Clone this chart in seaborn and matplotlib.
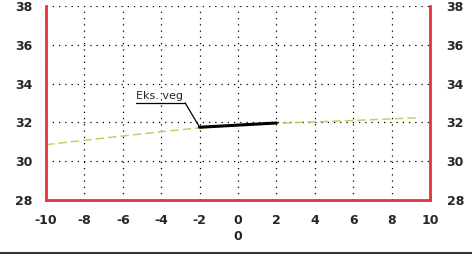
import numpy as np
import pandas as pd
import seaborn as sns
import matplotlib
matplotlib.use("Agg")
from matplotlib import pyplot as plt
from matplotlib.lines import Line2D

# terreng (stiplet gronn) og eksisterende veg (svart)
terreng_x = [-10, -8, -6, -4, -2, 0, 2, 4, 6, 8, 9.5]
terreng_y = [30.85, 31.08, 31.3, 31.52, 31.72, 31.85, 31.95, 32.03, 32.1, 32.18, 32.25]
veg_x = [-2, 2]
veg_y = [31.75, 31.97]
x_ticks = [-10, -8, -6, -4, -2, 0, 2, 4, 6, 8, 10]
y_ticks = [28, 30, 32, 34, 36, 38]

sns.set_style("white")
plt.rcParams["axes.unicode_minus"] = False
fig = plt.figure(figsize=(4.72, 2.56), dpi=100)
ax = fig.add_axes([46 / 472, 1 - 200 / 256, 384 / 472, 194 / 256])

sns.lineplot(x=terreng_x, y=terreng_y, ax=ax, color="#b5cf5a", lw=1.0,
             linestyle=(0, (6, 3)))
sns.lineplot(x=veg_x, y=veg_y, ax=ax, color="black", lw=2.2)

ax.set_xlim(-10, 10)
ax.set_ylim(28, 38)
ax.set_xticks(x_ticks)
ax.set_yticks(y_ticks)
ax.grid(True, color="black", linestyle=(0, (1, 4)), lw=0.9)

for side in ["left", "right", "bottom"]:
    ax.spines[side].set_color("#e8323c")
    ax.spines[side].set_linewidth(2)
ax.spines["top"].set_visible(False)

ax.tick_params(length=0, labelsize=9)
ax.tick_params(axis="x", pad=10)
ax.tick_params(axis="y", pad=10)
ax.set_xlabel("0", fontsize=9, fontweight="bold", labelpad=2)

# hoyre aksetall
ax2 = ax.twinx()
ax2.set_ylim(28, 38)
ax2.set_yticks(y_ticks)
ax2.tick_params(length=0, labelsize=9, pad=12)
for s in ax2.spines.values():
    s.set_visible(False)

for lab in ax.get_xticklabels() + ax.get_yticklabels() + ax2.get_yticklabels():
    lab.set_fontweight("bold")

# merkelapp med leder
ax.text(-5.3, 33.1, "Eks. veg", fontsize=8, ha="left", va="bottom")
ax.plot([-5.3, -2.75], [33.0, 33.0], color="black", lw=0.9)
ax.plot([-2.75, -2], [33.0, 31.75], color="black", lw=0.9)

fig.add_artist(Line2D([0, 1], [3 / 256, 3 / 256], color="#333333", lw=1.5))

fig.savefig("out.png", dpi=100)
